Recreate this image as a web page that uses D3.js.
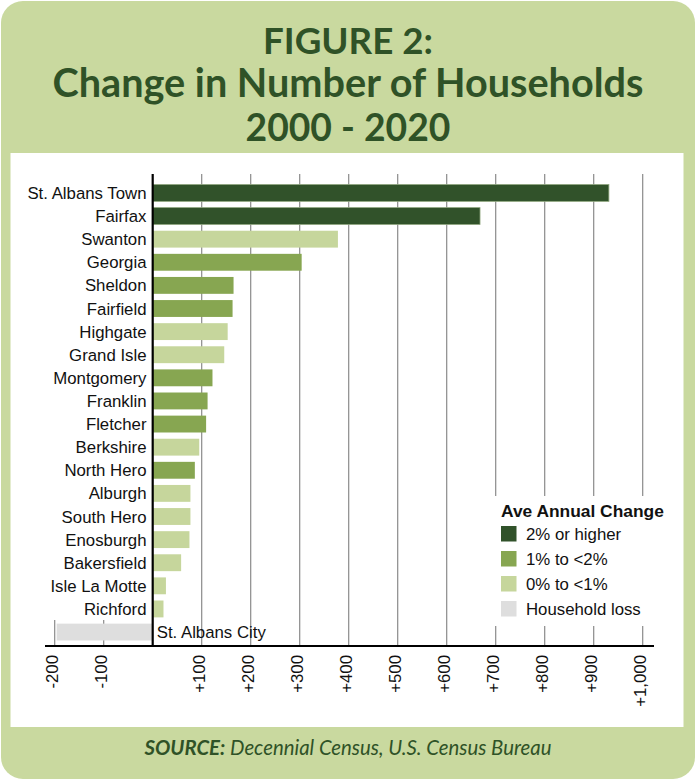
<!DOCTYPE html>
<html>
<head>
<meta charset="utf-8">
<script src="https://cdn.jsdelivr.net/npm/d3@7"></script>
<style>
  body { margin: 0; background: #fff; }
  svg { display: block; }
</style>
</head>
<body>
<div id="chart"></div>
<script>
// towns, household change 2000-2020, and growth class
const towns = ["St. Albans Town", "Fairfax", "Swanton", "Georgia", "Sheldon", "Fairfield",
  "Highgate", "Grand Isle", "Montgomery", "Franklin", "Fletcher", "Berkshire", "North Hero",
  "Alburgh", "South Hero", "Enosburgh", "Bakersfield", "Isle La Motte", "Richford", "St. Albans City"];
const changes = [931, 668, 378, 304, 165, 163, 153, 146, 122, 112, 109, 95, 86,
  77, 77, 75, 58, 27, 22, -196];
const classes = ["high", "high", "low", "mid", "mid", "mid", "low", "low", "mid", "mid", "mid", "low", "mid",
  "low", "low", "low", "low", "low", "low", "loss"];
const tickValues = [-200, -100, 100, 200, 300, 400, 500, 600, 700, 800, 900, 1000];
const legendKeys = ["high", "mid", "low", "loss"];
const legendLabels = ["2% or higher", "1% to <2%", "0% to <1%", "Household loss"];

const width = 696;
const height = 780;
const green = "#c9d99f";
const titleColor = "#2f5227";

const color = d3.scaleOrdinal(legendKeys, ["#31522a", "#87a651", "#c6d69c", "#dedede"]);

const svg = d3.select("#chart")
  .append("svg")
  .attr("width", width)
  .attr("height", height)
  .attr("viewBox", [0, 0, width, height]);

// frame
svg.append("rect")
  .attr("x", 1).attr("y", 1)
  .attr("width", width - 2).attr("height", height - 2)
  .attr("rx", 22)
  .attr("fill", green);

svg.append("rect")
  .attr("x", 10.5).attr("y", 153)
  .attr("width", 673).attr("height", 574)
  .attr("fill", "#fff");

// fit a text element to a target width
function fit(sel, w) {
  const len = sel.node().getComputedTextLength();
  const fs = parseFloat(sel.attr("font-size"));
  sel.attr("font-size", fs * w / len);
}

const titleFont = "Lato, 'Open Sans', sans-serif";
const titles = [["FIGURE 2:", 54, 170], ["Change in Number of Households", 97, 591], ["2000 - 2020", 141, 205]];
titles.forEach(([t, y, w]) => {
  const el = svg.append("text")
    .attr("x", width / 2)
    .attr("y", y)
    .attr("text-anchor", "middle")
    .attr("font-family", titleFont)
    .attr("font-weight", "bold")
    .attr("font-size", 34)
    .attr("fill", titleColor)
    .text(t);
  fit(el, w);
});

// scales
const x = d3.scaleLinear([-200, 1000], [54.7, 642.7]);
const y = d3.scaleBand(towns, [181.5, 643.5]).paddingInner(0.27).paddingOuter(0.13);
const axisY = 646;
const font = "'Liberation Sans', Arial, sans-serif";
const fs = 16.8;

// gridlines for positive values
svg.append("g")
  .selectAll("line")
  .data(tickValues.filter(d => d > 0))
  .join("line")
  .attr("x1", d => x(d)).attr("x2", d => x(d))
  .attr("y1", 174).attr("y2", axisY)
  .attr("stroke", "#8a8a8a")
  .attr("stroke-width", 1.2);

// short ticks for negative values
svg.append("g")
  .selectAll("line")
  .data(tickValues.filter(d => d < 0))
  .join("line")
  .attr("x1", d => x(d)).attr("x2", d => x(d))
  .attr("y1", 620).attr("y2", axisY)
  .attr("stroke", "#8a8a8a")
  .attr("stroke-width", 1.2);

// bars
const rows = towns.map((t, i) => ({ town: t, value: changes[i], cls: classes[i] }));

svg.append("g")
  .selectAll("rect")
  .data(rows)
  .join("rect")
  .attr("x", d => x(Math.min(0, d.value)))
  .attr("y", d => y(d.town))
  .attr("width", d => Math.abs(x(d.value) - x(0)))
  .attr("height", y.bandwidth())
  .attr("fill", d => color(d.cls))
  .attr("stroke", d => d.cls === "high" ? "#8fa67f" : "none")
  .attr("stroke-width", 0.8);

// category labels
svg.append("g")
  .selectAll("text")
  .data(rows.filter(d => d.value > 0))
  .join("text")
  .attr("x", 146.5)
  .attr("y", d => y(d.town) + y.bandwidth() / 2)
  .attr("dy", "0.36em")
  .attr("text-anchor", "end")
  .attr("font-family", font)
  .attr("font-size", fs)
  .attr("fill", "#111")
  .text(d => d.town);

svg.append("g")
  .selectAll("text")
  .data(rows.filter(d => d.value < 0))
  .join("text")
  .attr("x", x(0) + 4)
  .attr("y", d => y(d.town) + y.bandwidth() / 2)
  .attr("dy", "0.36em")
  .attr("font-family", font)
  .attr("font-size", fs)
  .attr("fill", "#111")
  .text(d => d.town);

// zero line and x axis line
svg.append("line")
  .attr("x1", x(0)).attr("x2", x(0))
  .attr("y1", 174).attr("y2", axisY)
  .attr("stroke", "#000").attr("stroke-width", 2.2);

svg.append("line")
  .attr("x1", 45).attr("x2", 654)
  .attr("y1", axisY).attr("y2", axisY)
  .attr("stroke", "#000").attr("stroke-width", 2.2);

// tick labels, rotated
svg.append("g")
  .selectAll("text")
  .data(tickValues)
  .join("text")
  .attr("transform", d => `translate(${x(d)},655) rotate(-90)`)
  .attr("dy", "0.18em")
  .attr("text-anchor", "end")
  .attr("font-family", font)
  .attr("font-size", fs)
  .attr("fill", "#111")
  .text(d => (d > 0 ? "+" : "") + d3.format(",")(d).replace("−", "-"));

// legend
const legend = svg.append("g");
legend.append("rect")
  .attr("x", 492).attr("y", 496)
  .attr("width", 186).attr("height", 130)
  .attr("fill", "#fff");

legend.append("text")
  .attr("x", 501).attr("y", 517)
  .attr("font-family", font)
  .attr("font-weight", "bold")
  .attr("font-size", 16.5)
  .attr("fill", "#111")
  .text("Ave Annual Change")
  .call(fit, 163);

legend.selectAll("g.item")
  .data(legendKeys)
  .join("g")
  .attr("class", "item")
  .attr("transform", (d, i) => `translate(501,${534 + i * 25})`)
  .call(g => g.append("rect")
    .attr("x", 0).attr("y", -8)
    .attr("width", 15.5).attr("height", 15.5)
    .attr("fill", d => color(d)))
  .call(g => g.append("text")
    .attr("x", 25)
    .attr("dy", "0.36em")
    .attr("font-family", font)
    .attr("font-size", fs)
    .attr("fill", "#111")
    .text((d, i) => legendLabels[i]));

// source
const src = svg.append("text")
  .attr("x", width / 2)
  .attr("y", 755)
  .attr("text-anchor", "middle")
  .attr("font-family", titleFont)
  .attr("font-style", "italic")
  .attr("font-size", 18)
  .attr("fill", titleColor);
src.append("tspan").attr("font-weight", "bold").text("SOURCE:");
src.append("tspan").text(" Decennial Census, U.S. Census Bureau");
fit(src, 407);
</script>
</body>
</html>
